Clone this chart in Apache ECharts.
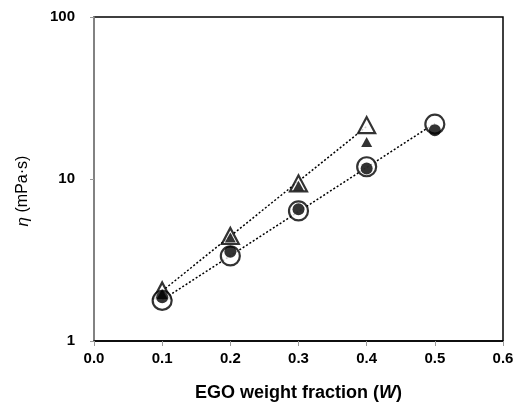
<!DOCTYPE html>
<html>
<head>
<meta charset="utf-8">
<script src="https://cdn.jsdelivr.net/npm/echarts@6/dist/echarts.min.js"></script>
<style>
html, body { margin: 0; padding: 0; background: #fff; }
#chart { width: 517px; height: 409px; }
</style>
</head>
<body>
<div id="chart"></div>
<script>
// EGO weight fraction
var wTri = [0.1, 0.2, 0.3, 0.4];
var wCirc = [0.1, 0.2, 0.3, 0.4, 0.5];
// viscosity (mPa·s)
var triOpen = [2.05, 4.45, 9.4, 21.5];
var triFilled = [1.95, 4.35, 9.1, 16.9];
var circOpen = [1.78, 3.35, 6.35, 11.9, 21.8];
var circFilled = [1.86, 3.55, 6.5, 11.6, 20.0];
var xTicks = ['0.0', '0.1', '0.2', '0.3', '0.4', '0.5', '0.6'];
var yTicks = [1, 10, 100];

var font = '"Liberation Sans", Arial, sans-serif';

// straight trend line (exponential fit) through the open markers
function fitLine(xs, ys) {
    var n = xs.length, sx = 0, sy = 0, sxx = 0, sxy = 0;
    for (var i = 0; i < n; i++) {
        var ly = Math.log10(ys[i]);
        sx += xs[i]; sy += ly; sxx += xs[i] * xs[i]; sxy += xs[i] * ly;
    }
    var b = (n * sxy - sx * sy) / (n * sxx - sx * sx);
    var a = (sy - b * sx) / n;
    return [[xs[0], Math.pow(10, a + b * xs[0])], [xs[n - 1], Math.pow(10, a + b * xs[n - 1])]];
}
function pairs(xs, ys) {
    return xs.map(function (x, i) { return [x, ys[i]]; });
}

var myChart = echarts.init(document.getElementById('chart'));
var option = {
    animation: false,
    grid: {
        left: 94, right: 14, top: 17, bottom: 68,
        show: true, borderColor: '#000', borderWidth: 1.5
    },
    xAxis: {
        type: 'value', min: 0, max: 0.6, interval: 0.1,
        name: 'EGO weight fraction ({i|W})',
        nameLocation: 'middle', nameGap: 43,
        nameTextStyle: {
            fontFamily: font, fontSize: 18, fontWeight: 'bold', color: '#000',
            rich: { i: { fontFamily: font, fontSize: 18, fontWeight: 'bold', fontStyle: 'italic', color: '#000' } }
        },
        axisLine: { show: true, lineStyle: { color: '#000', width: 1.5 } },
        axisTick: { show: true, length: 5, lineStyle: { color: '#999' } },
        axisLabel: {
            margin: 10, fontFamily: font, fontSize: 15, fontWeight: 'bold', color: '#000',
            formatter: function (v) { return xTicks[Math.round(v * 10)]; }
        },
        splitLine: { show: false }
    },
    yAxis: {
        type: 'log', logBase: 10, min: yTicks[0], max: yTicks[yTicks.length - 1],
        axisLine: { show: true, lineStyle: { color: '#999', width: 1.5 } },
        axisTick: { show: true, length: 4, lineStyle: { color: '#999' } },
        minorTick: { show: false },
        axisLabel: { margin: 19, fontFamily: font, fontSize: 15, fontWeight: 'bold', color: '#000' },
        splitLine: { show: false }
    },
    graphic: [{
        type: 'text', x: 23, y: 191, rotation: Math.PI / 2,
        style: {
            text: '{i|η} (mPa·s)', align: 'center', verticalAlign: 'middle',
            fontFamily: font, fontSize: 16, fill: '#000',
            rich: { i: { fontFamily: font, fontSize: 17, fontStyle: 'italic', fill: '#000' } }
        }
    }],
    series: [
        {
            type: 'line', data: fitLine(wTri, triOpen), symbol: 'none', z: 1,
            lineStyle: { color: '#000', width: 1.5, type: [2, 2] }
        },
        {
            type: 'line', data: fitLine(wCirc, circOpen), symbol: 'none', z: 1,
            lineStyle: { color: '#000', width: 1.5, type: [2, 2] }
        },
        {
            type: 'scatter', data: pairs(wTri, triOpen), symbol: 'triangle', symbolSize: [17, 16], z: 2,
            itemStyle: { color: '#fff', borderColor: '#000', borderWidth: 2.2 }
        },
        {
            type: 'scatter', data: pairs(wCirc, circOpen), symbol: 'circle', symbolSize: 19, z: 2,
            itemStyle: { color: '#fff', borderColor: '#000', borderWidth: 2.2 }
        },
        {
            type: 'scatter', data: pairs(wTri, triFilled), symbol: 'triangle', symbolSize: [11, 10], z: 3,
            itemStyle: { color: '#000' }
        },
        {
            type: 'scatter', data: pairs(wCirc, circFilled), symbol: 'circle', symbolSize: 12, z: 3,
            itemStyle: { color: '#000' }
        }
    ]
};
myChart.setOption(option);
window.addEventListener('resize', function () {
    myChart.resize();
});
</script>
</body>
</html>
